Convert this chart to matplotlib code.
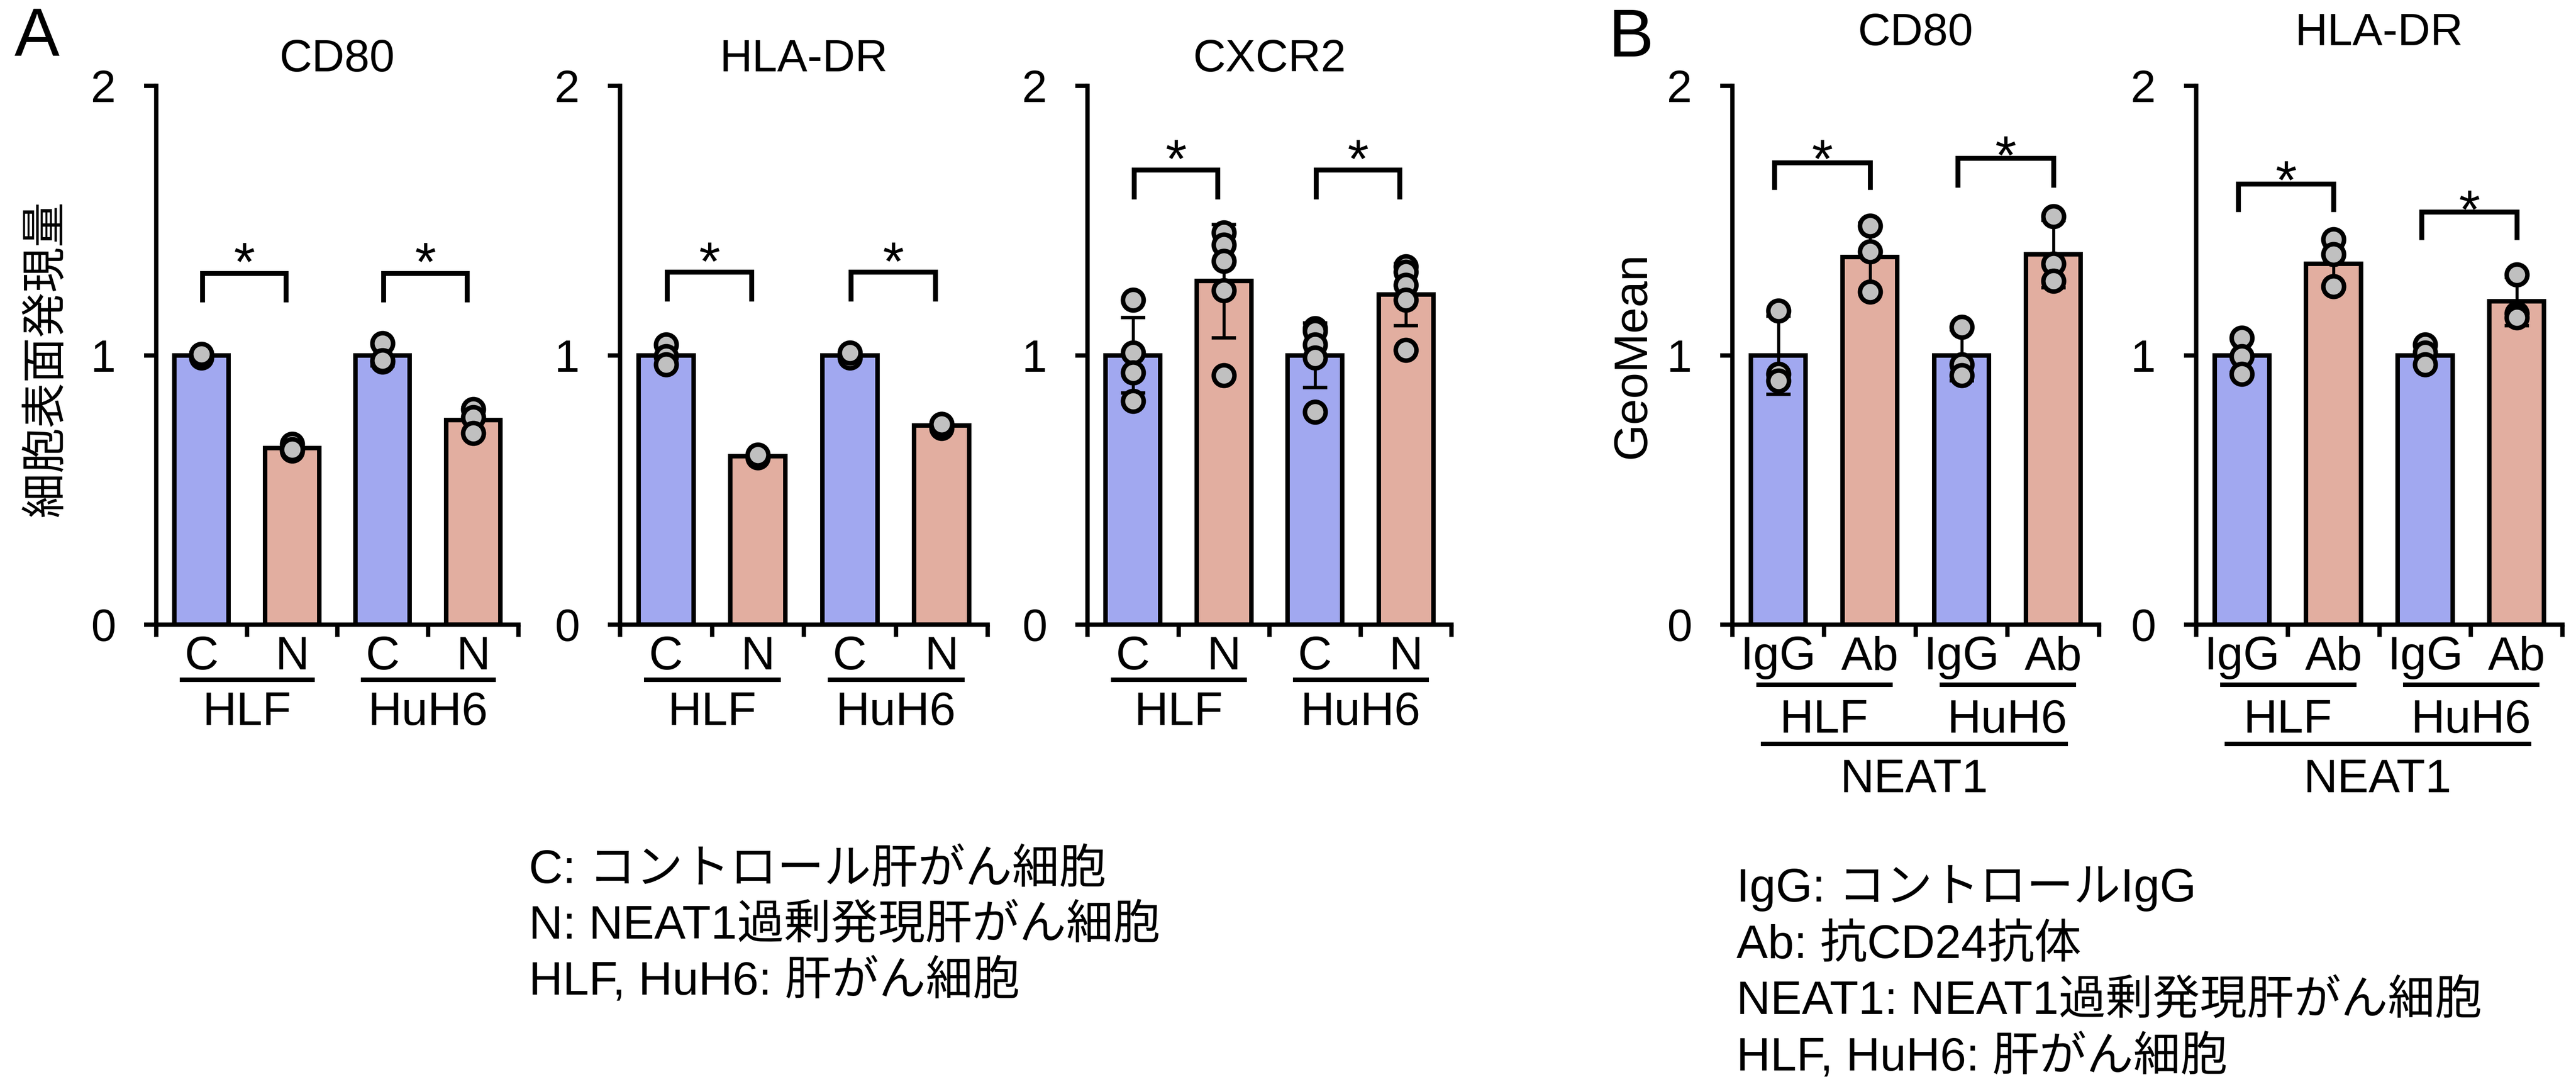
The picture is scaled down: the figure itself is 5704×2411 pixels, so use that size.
import matplotlib
matplotlib.use('Agg')
import matplotlib.pyplot as plt
from matplotlib.transforms import blended_transform_factory

plt.rcParams['font.family'] = ['Liberation Sans', 'Noto Sans CJK JP']

# ---------------- data ----------------
a_conditions = ['C', 'N', 'C', 'N']
b_conditions = ['IgG', 'Ab', 'IgG', 'Ab']
cell_lines = ['HLF', 'HuH6']

a_cd80_mean = [1.0, 0.655, 1.0, 0.76]
a_cd80_sd = [0.01, 0.015, 0.04, 0.045]
a_cd80_points = [[1.0, 0.99, 1.005], [0.67, 0.645, 0.65],
                 [1.045, 0.975, 0.98], [0.80, 0.77, 0.71]]

a_hladr_mean = [1.0, 0.625, 1.0, 0.74]
a_hladr_sd = [0.035, 0.005, 0.01, 0.01]
a_hladr_points = [[1.04, 0.995, 0.965], [0.625, 0.62, 0.63],
                  [1.0, 0.99, 1.01], [0.745, 0.73, 0.745]]

a_cxcr2_mean = [1.0, 1.275, 1.0, 1.225]
a_cxcr2_sd = [0.14, 0.21, 0.12, 0.115]
a_cxcr2_points = [[1.205, 1.01, 0.935, 0.83],
                  [1.455, 1.41, 1.35, 1.24, 0.925],
                  [1.10, 1.09, 1.04, 0.99, 0.79],
                  [1.33, 1.31, 1.26, 1.205, 1.02]]

b_cd80_mean = [1.0, 1.365, 1.0, 1.375]
b_cd80_sd = [0.145, 0.125, 0.095, 0.125]
b_cd80_points = [[1.165, 0.93, 0.905], [1.48, 1.385, 1.235],
                 [1.105, 0.965, 0.925], [1.515, 1.34, 1.275]]

b_hladr_mean = [1.0, 1.34, 1.0, 1.2]
b_hladr_sd = [0.065, 0.09, 0.04, 0.09]
b_hladr_points = [[1.065, 0.995, 0.93], [1.43, 1.375, 1.255],
                  [1.04, 1.01, 0.965], [1.30, 1.155, 1.14]]

# significance brackets: (bottom, top, asterisk centre) per cell line
a_cd80_sig = [(1.197, 1.304, 1.393), (1.197, 1.304, 1.393)]
a_hladr_sig = [(1.20, 1.31, 1.395), (1.20, 1.31, 1.395)]
a_cxcr2_sig = [(1.579, 1.688, 1.776), (1.579, 1.688, 1.776)]
b_cd80_sig = [(1.614, 1.715, 1.775), (1.623, 1.732, 1.79)]
b_hladr_sig = [(1.532, 1.637, 1.697), (1.429, 1.532, 1.588)]

titles = ['CD80', 'HLA-DR', 'CXCR2', 'CD80', 'HLA-DR']
ylabel_a = '細胞表面発現量'
ylabel_b = 'GeoMean'
group_b = 'NEAT1'
legend_a = ['C: コントロール肝がん細胞',
            'N: NEAT1過剰発現肝がん細胞',
            'HLF, HuH6: 肝がん細胞']
legend_b = ['IgG: コントロールIgG',
            'Ab: 抗CD24抗体',
            'NEAT1: NEAT1過剰発現肝がん細胞',
            'HLF, HuH6: 肝がん細胞']

# ---------------- style ----------------
W, H = 5704, 2411
DPI = 300
BLUE = '#A1A8F0'
SALMON = '#E2AEA0'
PT = '#C0C0C0'
LW = 2.3
FS_TICK = 24
FS_LAB = 25
FS_TITLE = 24
FS_LEG = 25
LEG_FAMILY = ['Liberation Sans', 'Noto Sans CJK JP']

fig = plt.figure(figsize=(W / DPI, H / DPI), dpi=DPI)


def fy(y):
    return 1 - y / H


def fx(x):
    return x / W


Y_TOP, Y_BOT = 190, 1383
panel_specs = [
    # x0, x1 (pixels), means, sd, points, sig, panel B?
    (346, 1148, a_cd80_mean, a_cd80_sd, a_cd80_points, a_cd80_sig, False),
    (1373, 2187, a_hladr_mean, a_hladr_sd, a_hladr_points, a_hladr_sig, False),
    (2408, 3214, a_cxcr2_mean, a_cxcr2_sd, a_cxcr2_points, a_cxcr2_sig, False),
    (3836, 4648, b_cd80_mean, b_cd80_sd, b_cd80_points, b_cd80_sig, True),
    (4863, 5674, b_hladr_mean, b_hladr_sd, b_hladr_points, b_hladr_sig, True),
]

for k, (x0, x1, means, sds, pts, sig, is_b) in enumerate(panel_specs):
    ax = fig.add_axes([fx(x0), fy(Y_BOT), (x1 - x0) / W, (Y_BOT - Y_TOP) / H])
    xs = [0.5, 1.5, 2.5, 3.5]
    cols = [BLUE, SALMON, BLUE, SALMON]
    ax.bar(xs, means, width=0.6, color=cols, edgecolor='black',
           linewidth=2.4, zorder=2)
    ax.errorbar(xs, means, yerr=sds, fmt='none', ecolor='black',
                elinewidth=1.6, capsize=6.5, capthick=1.8, zorder=3)
    for xi, p in zip(xs, pts):
        ax.plot([xi] * len(p), p, 'o', ms=11, mfc=PT, mec='black',
                mew=2.4, zorder=4, clip_on=False)
    # brackets
    if is_b:
        lo, hi = 0.46, 1.50
    else:
        lo, hi = 0.51, 1.43
    for g, (bot, top, ast) in zip([0, 2], sig):
        l, r = g + lo, g + hi
        ax.plot([l, l, r, r], [bot, top, top, bot], color='black', lw=2.6,
                solid_joinstyle='miter', solid_capstyle='butt', zorder=3)
        ax.annotate('*', xy=((l + r) / 2, ast), xytext=(0, -0.57 * 29),
                    textcoords='offset points', ha='center', va='baseline',
                    fontsize=29)
    ax.set_xlim(0, 4)
    ax.set_ylim(0, 2)
    ax.set_xticks([0, 1, 2, 3, 4])
    ax.set_xticklabels([])
    ax.set_yticks([0, 1, 2])
    ax.set_yticklabels(['0', '1', '2'], fontsize=FS_TICK)
    ax.tick_params(axis='both', width=LW, length=6.5, direction='out')
    ax.tick_params(axis='y', pad=15)
    for s in ['top', 'right']:
        ax.spines[s].set_visible(False)
    for s in ['left', 'bottom']:
        ax.spines[s].set_linewidth(LW)
    ax.patch.set_visible(False)

    bt = blended_transform_factory(ax.transData, fig.transFigure)
    conds = b_conditions if is_b else a_conditions
    for xi, c in zip(xs, conds):
        ax.text(xi, fy(1482), c, transform=bt, fontsize=FS_LAB,
                ha='center', va='baseline')
    uy = 1516 if is_b else 1505
    gy = 1622 if is_b else 1605
    for g, name in zip([1.0, 3.0], cell_lines):
        ax.plot([g - 0.74, g + 0.75], [fy(uy), fy(uy)], transform=bt,
                color='black', lw=2.4, clip_on=False, solid_capstyle='butt')
        ax.text(g, fy(gy), name, transform=bt, fontsize=FS_LAB, ha='center',
                va='baseline')
    if is_b:
        ax.plot([0.31, 3.66], [fy(1647), fy(1647)], transform=bt,
                color='black', lw=2.4, clip_on=False, solid_capstyle='butt')
        ax.text(1.98, fy(1754), group_b, transform=bt, fontsize=FS_LAB,
                ha='center', va='baseline')
    # title
    ty = 100 if is_b else 158
    fig.text(fx((x0 + x1) / 2), fy(ty), titles[k], fontsize=FS_TITLE,
             ha='center', va='baseline')

fig.text(fx(32), fy(124), 'A', fontsize=36, ha='left', va='baseline')
fig.text(fx(3562), fy(125), 'B', fontsize=36, ha='left', va='baseline')

fig.text(fx(100), fy(794), ylabel_a, rotation=90, fontsize=FS_TICK,
         ha='center', va='center', family=['Noto Sans CJK JP'])
fig.text(fx(3616), fy(786), ylabel_b, rotation=90, fontsize=25,
         ha='center', va='center')

for i, line in enumerate(legend_a):
    fig.text(fx(1171), fy(1955 + 124 * i), line, fontsize=FS_LEG, ha='left',
             va='baseline', family=LEG_FAMILY)
for i, line in enumerate(legend_b):
    fig.text(fx(3845), fy(1996 + 125 * i), line, fontsize=FS_LEG, ha='left',
             va='baseline', family=LEG_FAMILY)

fig.savefig('out.png', dpi=DPI, facecolor='white')
